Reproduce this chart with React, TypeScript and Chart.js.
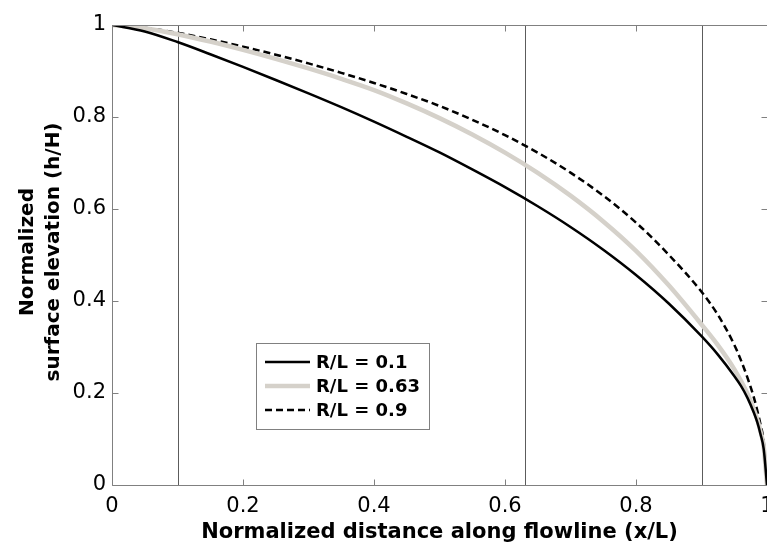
import React, { useEffect, useRef } from "react";
import { Chart, registerables } from "chart.js";

Chart.register(...registerables);

// ---- data ----
const xValues = [0, 0.05, 0.1, 0.15, 0.2, 0.25, 0.3, 0.35, 0.4, 0.45, 0.5, 0.55, 0.6, 0.65, 0.7, 0.75, 0.8, 0.85, 0.9, 0.925, 0.95, 0.96, 0.97, 0.98, 0.985, 0.99, 0.995, 1];
const solidValues = [1, 0.986, 0.963, 0.9365, 0.909, 0.8805, 0.8515, 0.8215, 0.79, 0.757, 0.723, 0.686, 0.6475, 0.606, 0.561, 0.5115, 0.4565, 0.3945, 0.3235, 0.2835, 0.237, 0.216, 0.19, 0.157, 0.137, 0.111, 0.078, 0];
const grayValues = [1, 0.993, 0.98, 0.964, 0.946, 0.9265, 0.9055, 0.883, 0.8585, 0.8295, 0.7975, 0.762, 0.7225, 0.6785, 0.629, 0.573, 0.509, 0.434, 0.349, 0.304, 0.252, 0.227, 0.199, 0.164, 0.143, 0.117, 0.083, 0];
const dashedValues = [1, 0.994, 0.983, 0.969, 0.953, 0.9355, 0.9165, 0.896, 0.874, 0.85, 0.824, 0.794, 0.7605, 0.7225, 0.679, 0.629, 0.5705, 0.5005, 0.42, 0.37, 0.305, 0.272, 0.234, 0.19, 0.163, 0.132, 0.094, 0];
const seriesLabels = ["R/L = 0.1", "R/L = 0.63", "R/L = 0.9"];
const referenceLines = [0.1, 0.63, 0.9];
const xTicks = [0, 0.2, 0.4, 0.6, 0.8, 1];
const yTicks = [0, 0.2, 0.4, 0.6, 0.8, 1];
const xTickLabels = ["0", "0.2", "0.4", "0.6", "0.8", "1"];
const yTickLabels = ["0", "0.2", "0.4", "0.6", "0.8", "1"];
const xTitle = "Normalized distance along flowline (x/L)";
const yTitle = ["Normalized", "surface elevation (h/H)"];

const FONT = "'DejaVu Sans', 'Liberation Sans', Arial, sans-serif";
const GRAY = "#d5d1ca";

const framePlugin = {
  id: "frame",
  beforeDatasetsDraw(chart: any) {
    const { ctx, chartArea: a, scales } = chart;
    ctx.save();
    ctx.strokeStyle = "#5c5c5c";
    ctx.lineWidth = 1;
    referenceLines.forEach((v) => {
      const x = Math.round(scales.x.getPixelForValue(v)) + 0.5;
      ctx.beginPath();
      ctx.moveTo(x, a.top);
      ctx.lineTo(x, a.bottom);
      ctx.stroke();
    });
    ctx.restore();
  },
  afterDatasetsDraw(chart: any) {
    const { ctx, chartArea: a, scales } = chart;
    ctx.save();
    ctx.strokeStyle = "#808080";
    ctx.lineWidth = 1;
    const L = Math.round(a.left) + 0.5;
    const R = Math.round(a.right) + 0.5;
    const T = Math.round(a.top) + 0.5;
    const B = Math.round(a.bottom) + 0.5;
    ctx.beginPath();
    ctx.moveTo(L, T);
    ctx.lineTo(R, T);
    ctx.lineTo(R, B);
    ctx.lineTo(L, B);
    ctx.closePath();
    ctx.stroke();
    const tl = 6;
    ctx.beginPath();
    xTicks.forEach((v) => {
      const x = Math.round(scales.x.getPixelForValue(v)) + 0.5;
      ctx.moveTo(x, B);
      ctx.lineTo(x, B - tl);
      ctx.moveTo(x, T);
      ctx.lineTo(x, T + tl);
    });
    yTicks.forEach((v) => {
      const y = Math.round(scales.y.getPixelForValue(v)) + 0.5;
      ctx.moveTo(L, y);
      ctx.lineTo(L + tl, y);
      ctx.moveTo(R, y);
      ctx.lineTo(R - tl, y);
    });
    ctx.stroke();
    ctx.restore();
  },
  afterDraw(chart: any) {
    const { ctx, chartArea: a } = chart;
    ctx.save();
    ctx.fillStyle = "#000";
    // x title
    ctx.font = `bold 21px ${FONT}`;
    ctx.textAlign = "center";
    ctx.textBaseline = "alphabetic";
    ctx.fillText(xTitle, (a.left + a.right) / 2, 538);
    // y title
    ctx.font = `bold 20px ${FONT}`;
    const cy = (a.top + a.bottom) / 2 - 3;
    const baselines = [33, 59];
    yTitle.forEach((t, i) => {
      ctx.save();
      ctx.translate(baselines[i], cy);
      ctx.rotate(-Math.PI / 2);
      ctx.fillText(t, 0, 0);
      ctx.restore();
    });
    // legend
    const bx = 256.5, by = 343.5, bw = 173, bh = 86;
    ctx.fillStyle = "#fff";
    ctx.fillRect(bx, by, bw, bh);
    ctx.strokeStyle = "#808080";
    ctx.lineWidth = 1;
    ctx.strokeRect(bx, by, bw, bh);
    const rows = [362, 386, 410];
    chart.data.datasets.forEach((ds: any, i: number) => {
      const y = rows[i];
      ctx.save();
      ctx.strokeStyle = ds.borderColor;
      ctx.lineWidth = ds.borderWidth;
      ctx.setLineDash(ds.borderDash || []);
      ctx.beginPath();
      ctx.moveTo(265, y);
      ctx.lineTo(310, y);
      ctx.stroke();
      ctx.restore();
      ctx.fillStyle = "#000";
      ctx.font = `bold 18px ${FONT}`;
      ctx.textAlign = "left";
      ctx.textBaseline = "middle";
      ctx.fillText(ds.label, 316, y + 1);
    });
    ctx.restore();
  },
};

export default function App() {
  const ref = useRef<HTMLCanvasElement | null>(null);

  useEffect(() => {
    const canvas = ref.current;
    if (!canvas) return;
    const toPoints = (ys: number[]) => xValues.map((x, i) => ({ x, y: ys[i] }));
    const chart = new Chart(canvas, {
      type: "line",
      data: {
        datasets: [
          {
            label: seriesLabels[0],
            data: toPoints(solidValues),
            borderColor: "#000000",
            borderWidth: 2.5,
            pointRadius: 0,
            fill: false,
            cubicInterpolationMode: "monotone",
          },
          {
            label: seriesLabels[1],
            data: toPoints(grayValues),
            borderColor: GRAY,
            borderWidth: 4.5,
            pointRadius: 0,
            fill: false,
            cubicInterpolationMode: "monotone",
          },
          {
            label: seriesLabels[2],
            data: toPoints(dashedValues),
            borderColor: "#000000",
            borderWidth: 2.5,
            borderDash: [7, 4],
            pointRadius: 0,
            fill: false,
            cubicInterpolationMode: "monotone",
          },
        ],
      },
      options: {
        animation: false,
        responsive: false,
        devicePixelRatio: 1,
        layout: { padding: { left: 0, right: 23, top: 25, bottom: 0 } },
        plugins: { legend: { display: false }, tooltip: { enabled: false } },
        scales: {
          x: {
            type: "linear",
            min: 0,
            max: 1,
            grid: { display: false, drawTicks: false },
            border: { display: false },
            afterBuildTicks: (s: any) => {
              s.ticks = xTicks.map((v) => ({ value: v }));
            },
            afterFit: (s: any) => {
              s.height = 58;
            },
            ticks: {
              autoSkip: false,
              maxRotation: 0,
              padding: 9,
              color: "#000",
              font: { family: FONT, size: 21 },
              callback: (_v: any, i: number) => xTickLabels[i],
            },
          },
          y: {
            type: "linear",
            min: 0,
            max: 1,
            grid: { display: false, drawTicks: false },
            border: { display: false },
            afterBuildTicks: (s: any) => {
              s.ticks = yTicks.map((v) => ({ value: v }));
            },
            afterFit: (s: any) => {
              s.width = 112;
            },
            ticks: {
              autoSkip: false,
              padding: 6,
              color: "#000",
              font: { family: FONT, size: 21 },
              callback: (_v: any, i: number) => yTickLabels[i],
            },
          },
        },
      },
      plugins: [framePlugin],
    } as any);
    return () => chart.destroy();
  }, []);

  return (
    <div
      style={{
        position: "fixed",
        left: 0,
        top: 0,
        width: 767,
        height: 543,
        overflow: "hidden",
        background: "#fff",
      }}
    >
      <canvas ref={ref} width={790} height={543} style={{ display: "block", width: 790, height: 543 }} />
    </div>
  );
}
